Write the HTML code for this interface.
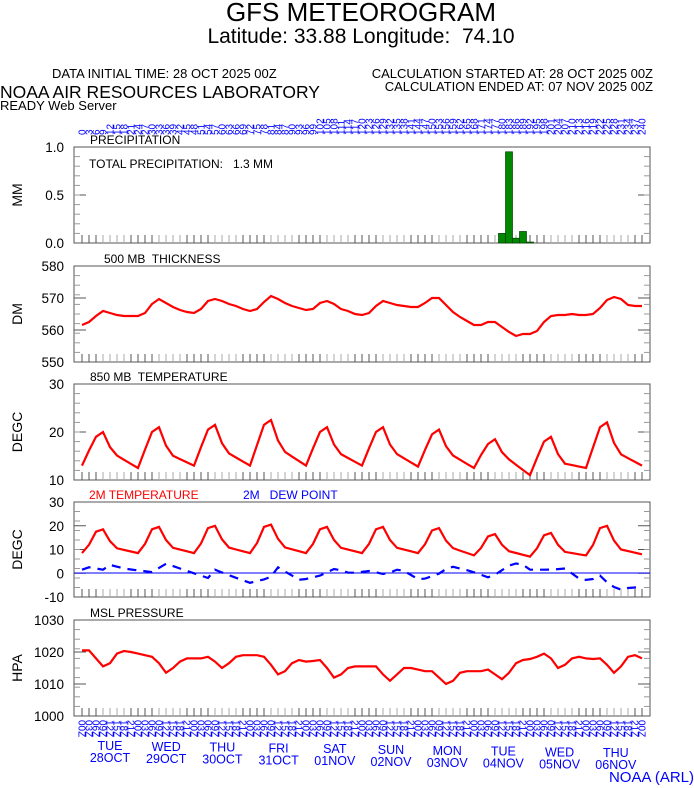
<!DOCTYPE html>
<html><head><meta charset="utf-8"><style>
body{margin:0;background:#fff;}
svg{display:block;font-family:"Liberation Sans",sans-serif;}
</style></head><body>
<svg id="s" width="694" height="788" xmlns="http://www.w3.org/2000/svg">
<text x="361" y="21" font-size="26" text-anchor="middle">GFS METEOROGRAM</text>
<text x="361" y="43" font-size="21" text-anchor="middle" xml:space="preserve">Latitude: 33.88 Longitude:  74.10</text>
<text x="52" y="78" font-size="13">DATA INITIAL TIME: 28 OCT 2025 00Z</text>
<text x="653" y="78" font-size="13" text-anchor="end">CALCULATION STARTED AT: 28 OCT 2025 00Z</text>
<text x="653" y="91" font-size="13" text-anchor="end">CALCULATION ENDED AT: 07 NOV 2025 00Z</text>
<text x="0" y="98" font-size="17.5">NOAA AIR RESOURCES LABORATORY</text>
<text x="0" y="110" font-size="13">READY Web Server</text>
<text x="694" y="782" font-size="15" fill="#00f" text-anchor="end">NOAA (ARL)</text>
</svg>
<script>
var s=document.getElementById('s'),h='';
function X(i){return 82+7*i;}
var P=[[147,243,'PRECIPITATION','MM',[[1.0,'1.0'],[0.5,'0.5'],[0,'0.0']],0,1],
[266,362,'500 MB  THICKNESS','DM',[[580,'580'],[570,'570'],[560,'560'],[550,'550']],550,580],
[384,480,'850 MB  TEMPERATURE','DEGC',[[30,'30'],[20,'20'],[10,'10']],10,30],
[502,597,'','DEGC',[[30,'30'],[20,'20'],[10,'10'],[0,'0'],[-10,'-10']],-10,30],
[620,716,'MSL PRESSURE','HPA',[[1030,'1030'],[1020,'1020'],[1010,'1010'],[1000,'1000']],1000,1030]];
function Y(p,v){return p[1]-(v-p[5])/(p[6]-p[5])*(p[1]-p[0]);}
P.forEach(function(p,k){
 h+='<rect x="74" y="'+p[0]+'" width="576" height="'+(p[1]-p[0])+'" fill="none" stroke="#555" stroke-width="1"/>';
 if(p[2])h+='<text x="'+(k==1?104:90)+'" y="'+(p[0]-3)+'" font-size="12" xml:space="preserve">'+p[2]+'</text>';
 var cy=(p[0]+p[1])/2;
 h+='<text transform="translate(22,'+cy+') rotate(-90)" font-size="14" text-anchor="middle">'+p[3]+'</text>';
 p[4].forEach(function(t){var y=Y(p,t[0]);h+='<text x="64" y="'+(y+5)+'" font-size="13.5" text-anchor="end">'+t[1]+'</text>';
  h+='<line x1="74" y1="'+y+'" x2="86" y2="'+y+'" stroke="#555"/><line x1="638" y1="'+y+'" x2="650" y2="'+y+'" stroke="#555"/>';});
 for(var j=1;j<10;j++){var y=p[0]+j*(p[1]-p[0])/10;h+='<line x1="74" y1="'+y+'" x2="80" y2="'+y+'" stroke="#999"/><line x1="644" y1="'+y+'" x2="650" y2="'+y+'" stroke="#999"/>';}
 for(var i=0;i<81;i++){var x=X(i);h+='<line x1="'+x+'" y1="'+(p[1]-8)+'" x2="'+x+'" y2="'+p[1]+'" stroke="'+(i%8<3||i%8>6?'#555':'#aaa')+'"/>';}
});
[[60,0.1],[61,0.95],[62,0.05],[63,0.12],[64,0.01]].forEach(function(b){var x=X(b[0])-3.5,y=Y(P[0],b[1]);h+='<rect x="'+x+'" y="'+y+'" width="7" height="'+(243-y)+'" fill="#080" stroke="#040" stroke-width="0.7"/>';});
h+='<text x="89" y="168" font-size="12" xml:space="preserve">TOTAL PRECIPITATION:   1.3 MM</text>';
function line(ys,col,dash){var d='';ys.forEach(function(y,i){d+=(i?'L':'M')+X(i)+' '+y.toFixed(1);});
 h+='<path d="'+d+'" fill="none" stroke="'+col+'" stroke-width="2.2"'+(dash?' stroke-dasharray="9,7"':'')+'/>';}
var th=[325,322,316,311,313,315,316,316,316,313,304,299,303,307,310,312,313,309,301,299,301,304,306,309,311,309,302,296,299,303,306,308,310,309,303,301,304,309,311,314,315,313,306,301,303,305,306,307,307,303,298,298,305,312,317,321,325,325,322,322,327,332,336,334,334,331,322,316,315,315,314,315,315,314,308,300,297,299,305,306,306];
line(th,'#f00');
function diurnal(pk,mn,r){var v=[];for(var d=0;d<10;d++){var m=mn[d],n=mn[d+1],q=pk[d];
 var a=[m,m+r[0]*(q-m),q-1,q,q-r[1]*(q-m),m+r[2]*(q-m),(m+r[2]*(q-m))*0.66+n*0.34,(m+r[2]*(q-m))*0.33+n*0.67];v=v.concat(a);}v.push(mn[10]);return v;}
var t8=diurnal([20,21,21.5,22.5,21,21,20.5,18.5,19,22],[13,12.5,13,13,13,13,12.8,12.5,11,12.5,13],[0.45,0.45,0.3]);
line(t8.map(function(v){return Y(P[2],v);}),'#f00');
var t2=diurnal([18.5,19.5,20,20.5,19.5,19.5,19,16.5,17,20],[8.5,8.5,8.5,8.5,8.5,8.5,8.5,7.5,7,7.5,8],[0.35,0.5,0.2]);
h+='<line x1="74" y1="573" x2="650" y2="573" stroke="#00f" stroke-width="1"/>';
var cp=[[82,1.5],[89,2.5],[103,1.5],[110,3.5],[124,2],[138,1.2],[152,0.5],[166,4],[194,0],[208,-2],[215,1.5],[230,-1],[250,-4],[270,-2],[278,2.5],[290,-0.5],[300,-3],[320,-1],[335,2],[350,0],[370,1],[385,-0.5],[400,2],[420,-3],[440,0],[450,3],[470,1],[490,-2],[510,3.5],[520,4.5],[530,1.5],[550,1.5],[565,2],[580,-2.5],[590,-3],[600,-1],[610,-5],[620,-7],[630,-6],[643,-6]];
var dp=[];for(var i=0;i<81;i++){var x=X(i),v=cp[cp.length-1][1];for(var j=0;j<cp.length-1;j++){if(x>=cp[j][0]&&x<=cp[j+1][0]){v=cp[j][1]+(cp[j+1][1]-cp[j][1])*(x-cp[j][0])/(cp[j+1][0]-cp[j][0]);break;}}dp.push(Y(P[3],v));}
line(dp,'#00f',1);
line(t2.map(function(v){return Y(P[3],v);}),'#f00');
h+='<text x="89" y="499" font-size="12" fill="#f00">2M TEMPERATURE</text><text x="243" y="499" font-size="12" fill="#00f" xml:space="preserve">2M   DEW POINT</text>';
var ms=[1020.5,1020.5,1018,1015.5,1016.5,1019.5,1020.3,1020,1019.5,1019,1018.5,1016.5,1013.5,1015,1017,1018,1018,1018,1018.5,1017,1015,1016.5,1018.5,1019,1019,1019,1018.5,1016,1013,1014,1016.5,1017.5,1017,1017.2,1017.5,1015,1012,1013,1015,1015.5,1015.5,1015.5,1015.5,1013,1011,1013,1015,1015,1014.5,1014,1014,1012,1010,1011,1013.5,1014,1014,1014,1014.5,1013,1011.5,1013.5,1016.5,1017.5,1017.8,1018.5,1019.5,1018,1015,1016,1018,1018.5,1018,1017.8,1018,1016,1013.5,1015.5,1018.5,1019,1018];
line(ms.map(function(v){return Y(P[4],v);}),'#f00');
for(var i=0;i<81;i++){var x=X(i);
 h+='<text transform="translate('+(x+3.5)+',135) rotate(-90)" font-size="10" fill="#00f">'+(i*3)+'</text>';
 var hr=(i%8)*3;h+='<text transform="translate('+(x-3.5)+',720) rotate(90)" font-size="10" fill="#00f">'+(hr<10?'0':'')+hr+'Z</text>';}
var dd=[['TUE','28OCT'],['WED','29OCT'],['THU','30OCT'],['FRI','31OCT'],['SAT','01NOV'],['SUN','02NOV'],['MON','03NOV'],['TUE','04NOV'],['WED','05NOV'],['THU','06NOV']];
dd.forEach(function(d,k){var x=110+56.2*k,o=k*0.8;h+='<text x="'+x+'" y="'+(750+o)+'" font-size="12.5" fill="#00f" text-anchor="middle">'+d[0]+'</text><text x="'+x+'" y="'+(762+o)+'" font-size="12.5" fill="#00f" text-anchor="middle">'+d[1]+'</text>';});
s.insertAdjacentHTML('beforeend',h);
</script>
</body></html>
